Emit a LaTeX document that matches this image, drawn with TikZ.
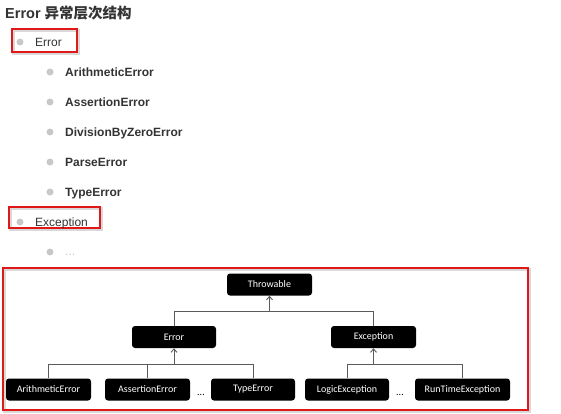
\documentclass[tikz,border=0pt]{standalone}
\usepackage{fontspec}
\setmainfont{Liberation Sans}
\newfontfamily\cjkfont{Noto Sans CJK SC}
\newfontfamily\calfont{Carlito}
\usetikzlibrary{arrows.meta,calc}
\definecolor{txt}{HTML}{333333}
\definecolor{bul}{HTML}{C8C8C8}
\definecolor{redb}{HTML}{E01818}
\definecolor{conn}{HTML}{5A5A5A}
\tikzset{
  title/.style={anchor=base west, inner sep=0pt, font=\fontsize{14.5}{16}\selectfont\bfseries, text=txt},
  top/.style={anchor=base west, inner sep=0pt, font=\fontsize{12}{14}\selectfont, text=txt},
  sub/.style={anchor=base west, inner sep=0pt, font=\fontsize{12}{14}\selectfont\bfseries, text=txt},
  bullet/.style={circle, fill=bul, inner sep=0pt, minimum size=7pt},
  redbox/.style={draw=redb, line width=2.6pt},
  shadowbox/.style={draw=black!25, line width=2.6pt, opacity=0.6},
  cls/.style={fill=black, rounded corners=3pt, text=white, font=\calfont\fontsize{10}{12}\selectfont, minimum height=22pt, inner sep=0pt},
  link/.style={draw=conn, line width=0.9pt},
  arr/.style={link, -{Straight Barb[length=3.5pt,width=6pt]}},
  dots/.style={inner sep=0pt, font=\calfont\fontsize{10}{12}\selectfont, text=black}
}
\begin{document}
\begin{tikzpicture}[x=1pt,y=-1pt]
\useasboundingbox (0,0) rectangle (561,413);
% title
\node[title] (t) at (5,18.5) {Error {\cjkfont 异常层次结构}};
% top-level items
\draw[shadowbox] (13.5,30.5) rectangle (78.5,53.5);
\draw[redbox] (12,29) rectangle (77,52);
\node[bullet] (b1) at (20,42) {};
\node[top] (e1) at (35,46.5) {Error};
\node[bullet] (s1) at (50,72) {};
\node[sub] (i1) at (65,76) {ArithmeticError};
\node[bullet] (s2) at (50,102) {};
\node[sub] (i2) at (65,106) {AssertionError};
\node[bullet] (s3) at (50,132) {};
\node[sub] (i3) at (65,136) {DivisionByZeroError};
\node[bullet] (s4) at (50,162) {};
\node[sub] (i4) at (65,166) {ParseError};
\node[bullet] (s5) at (50,192) {};
\node[sub] (i5) at (65,196) {TypeError};
\draw[shadowbox] (10.5,208.5) rectangle (101.5,229.5);
\draw[redbox] (9,207) rectangle (100,228);
\node[bullet] (b2) at (20,222) {};
\node[top] (e2) at (35,226) {Exception};
\node[bullet] (s6) at (50,252) {};
\node[top, text=bul] (i6) at (65,255) {...};
% diagram frame
\draw[shadowbox] (4.5,269.5) rectangle (530,411.5);
\draw[redbox] (3,268) rectangle (528,410);
% class nodes
\node[cls, minimum width=85pt] (thr) at (269.5,284.5) {Throwable};
\node[cls, minimum width=84pt] (err) at (174,337) {Error};
\node[cls, minimum width=85pt] (exc) at (373.5,337) {Exception};
\node[cls, minimum width=85pt] (ari) at (48.5,389.5) {ArithmeticError};
\node[cls, minimum width=85pt] (ass) at (147.5,389.5) {AssertionError};
\node[cls, minimum width=84pt] (typ) at (253,389.5) {TypeError};
\node[cls, minimum width=84pt] (log) at (347,389.5) {LogicException};
\node[cls, minimum width=95pt] (run) at (462.5,389.5) {RunTimeException};
\node[dots] (d1) at (201,395) {...};
\node[dots] (d2) at (400,395) {...};
% connectors
\coordinate (tj) at ($(thr.south)+(0,16)$);
\coordinate (ej) at ($(err.south)+(0,16)$);
\coordinate (xj) at ($(exc.south)+(0,16)$);
\draw[link] (err.north) |- (tj) -| (exc.north);
\draw[arr] (tj) -- (thr.south);
\draw[link] (ari.north) |- (ej) -| (typ.north);
\draw[link] (ass.north) -- (ass.north |- ej);
\draw[arr] (ej) -- (err.south);
\draw[link] (log.north) |- (xj) -| (run.north);
\draw[arr] (xj) -- (exc.south);
\end{tikzpicture}
\end{document}
